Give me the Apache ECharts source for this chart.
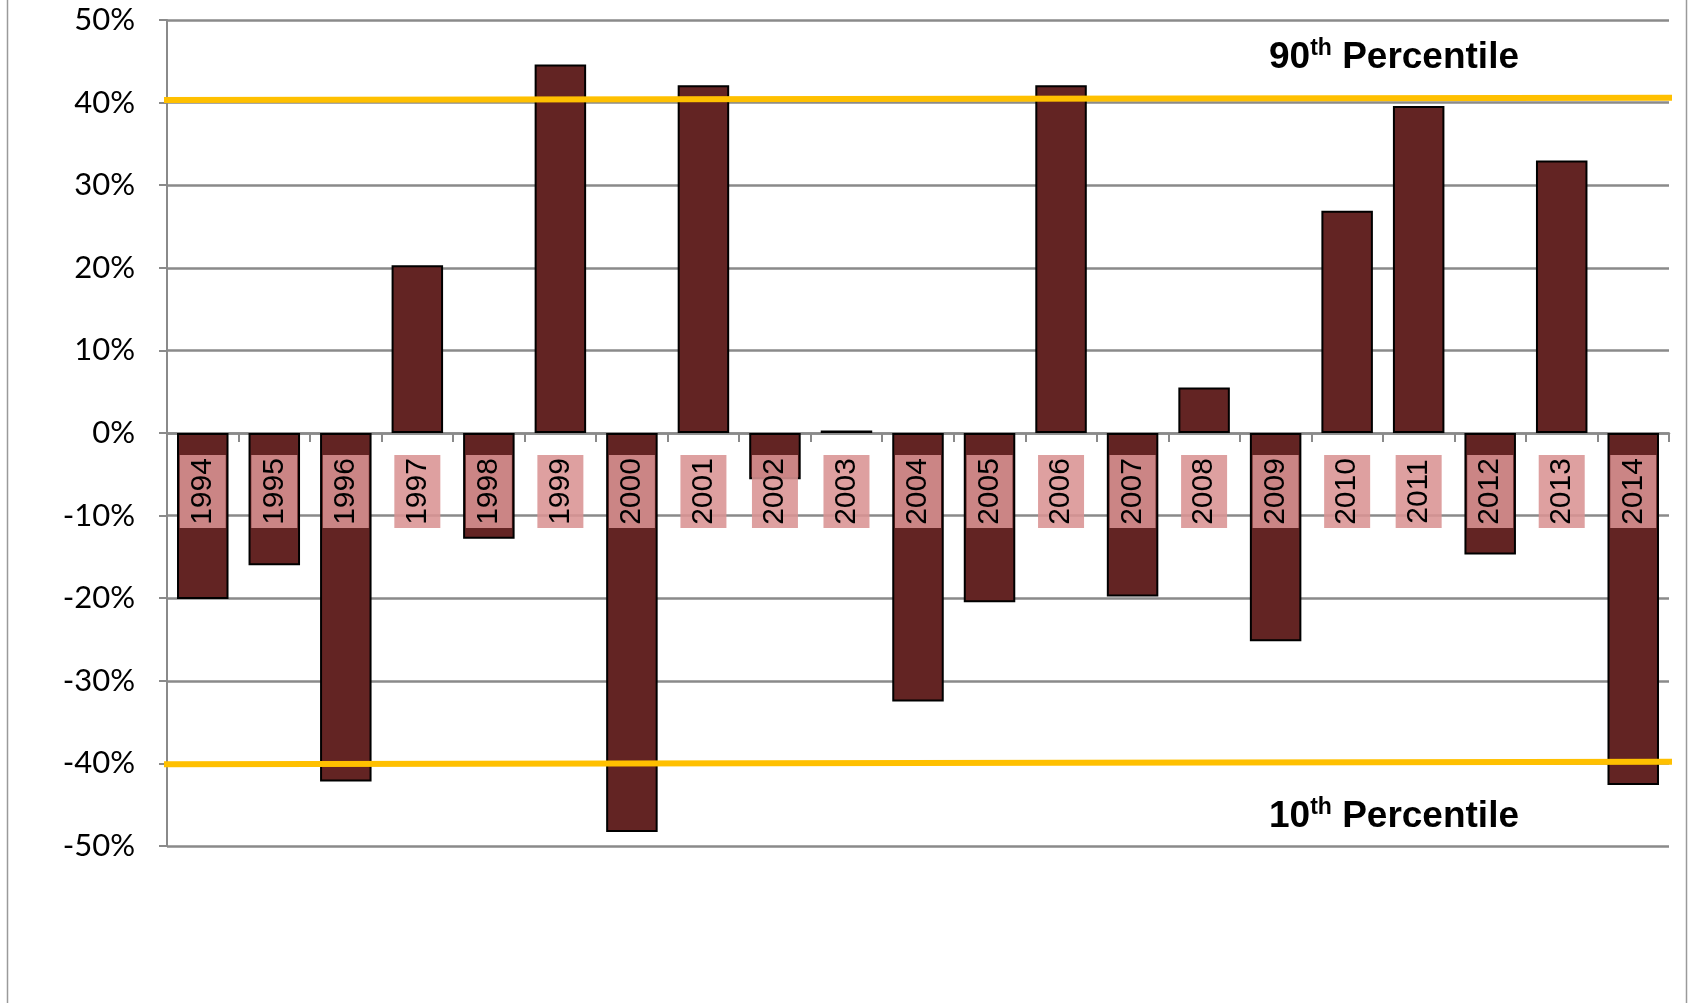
<!DOCTYPE html>
<html>
<head>
<meta charset="utf-8">
<script src="https://cdn.jsdelivr.net/npm/echarts@6/dist/echarts.min.js"></script>
<style>html,body{margin:0;padding:0;background:#fff;}#c{width:1688px;height:1003px;}</style>
</head>
<body>
<div id="c"></div>
<script>
const years = ['1994','1995','1996','1997','1998','1999','2000','2001','2002','2003','2004','2005','2006','2007','2008','2009','2010','2011','2012','2013','2014'];
const returns = [-20.1,-16.0,-42.2,20.3,-12.8,44.6,-48.3,42.1,-5.6,0.3,-32.5,-20.5,42.1,-19.8,5.5,-25.2,26.9,39.6,-14.7,33.0,-42.6];
const yTicks = {min:-50, max:50, step:10};
const lineSpan = [-0.1, 21.1];
const p90 = [40.3, 40.6];
const p10 = [-40.1, -39.8];
const label90 = ['90','th',' Percentile'];
const label10 = ['10','th',' Percentile'];

const chart = echarts.init(document.getElementById('c'), null, {renderer:'canvas'});
const richStyle = {
  n: {fontFamily:'Liberation Sans, Arial, sans-serif', fontWeight:'bold', fontSize:37, lineHeight:42, fill:'#000', color:'#000'},
  s: {fontFamily:'Liberation Sans, Arial, sans-serif', fontWeight:'bold', fontSize:23, lineHeight:30, verticalAlign:'top', fill:'#000', color:'#000'}
};
function rt(parts){ return '{n|'+parts[0]+'}{s|'+parts[1]+'}{n|'+parts[2]+'}'; }

const gridTop = 20, gridBottom = 157, chartH = 1003;
const zeroY = gridTop + (chartH - gridTop - gridBottom) * (yTicks.max / (yTicks.max - yTicks.min));
const labelOffset = -((chartH - gridBottom) - zeroY);

chart.setOption({
  animation:false,
  backgroundColor:'#fff',
  grid:{left:167, right:19, top:gridTop, bottom:gridBottom, containLabel:false},
  xAxis:[{
    type:'category', data:years,
    axisLine:{onZero:true, lineStyle:{color:'#8a8a8a', width:2.5}},
    axisTick:{show:true, length:9, lineStyle:{color:'#8a8a8a', width:2}},
    axisLabel:{show:false},
    splitLine:{show:false}
  },{
    type:'value', min:0, max:21, show:false
  },{
    type:'category', data:years, position:'bottom', offset:labelOffset, z:6,
    axisLine:{show:false}, axisTick:{show:false}, splitLine:{show:false},
    axisLabel:{
      rotate:90, margin:22, interval:0,
      formatter:function(v){ return '{a|'+v+'}'; },
      backgroundColor:'rgba(218,147,147,0.88)', padding:[5,3,5,3],
      rich:{a:{fontFamily:'Liberation Sans, Arial, sans-serif', fontSize:30, color:'#000', width:67, lineHeight:36, align:'center'}}
    }
  }],
  yAxis:{
    type:'value', min:yTicks.min, max:yTicks.max, interval:yTicks.step,
    axisLine:{show:true, lineStyle:{color:'#8a8a8a', width:2}},
    axisTick:{show:true, length:8, lineStyle:{color:'#8a8a8a', width:2}},
    axisLabel:{formatter:'{value}%', fontFamily:'Lato, Open Sans, sans-serif', fontSize:31, color:'#000', margin:32},
    splitLine:{show:true, lineStyle:{color:'#8a8a8a', width:2.5}}
  },
  series:[{
    type:'bar', data:returns, barWidth:'72%', z:2,
    itemStyle:{color:'#632423', borderColor:'#000', borderWidth:2}
  },{
    type:'line', xAxisIndex:1, data:[[lineSpan[0],p90[0]],[lineSpan[1],p90[1]]],
    symbol:'none', clip:false, z:4, lineStyle:{color:'#FFC000', width:6}
  },{
    type:'line', xAxisIndex:1, data:[[lineSpan[0],p10[0]],[lineSpan[1],p10[1]]],
    symbol:'none', clip:false, z:4, lineStyle:{color:'#FFC000', width:6}
  }],
  graphic:[
    {type:'line', shape:{x1:7.5,y1:0,x2:7.5,y2:1003}, style:{stroke:'#9a9a9a', lineWidth:1.5}},
    {type:'line', shape:{x1:1686.5,y1:0,x2:1686.5,y2:1003}, style:{stroke:'#9a9a9a', lineWidth:1.5}},
    {type:'text', x:1394, y:58, z:10, style:{text:rt(label90), rich:richStyle, align:'center', verticalAlign:'middle'}},
    {type:'text', x:1394, y:817, z:10, style:{text:rt(label10), rich:richStyle, align:'center', verticalAlign:'middle'}}
  ]
});
</script>
</body>
</html>
